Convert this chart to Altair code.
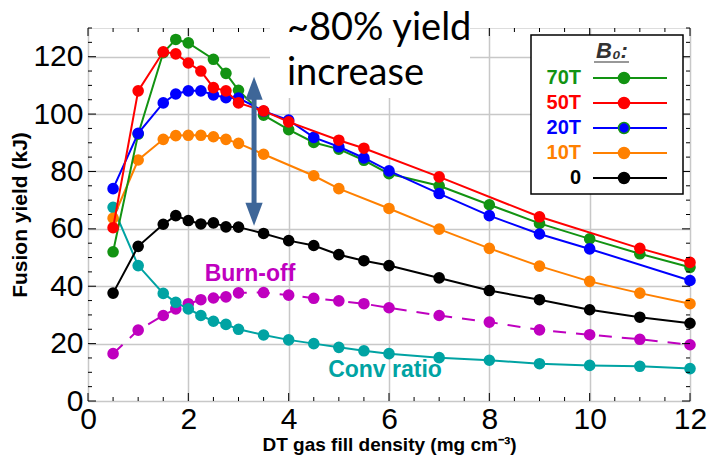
import altair as alt
import pandas as pd

# ---- data: fusion yield vs DT gas fill density for several applied fields ----
x_full = [0.5, 1, 1.5, 1.75, 2, 2.25, 2.5, 2.75, 3, 3.5, 4, 4.5, 5, 5.5, 6, 7, 8, 9, 10, 11, 12]

y_0T = [37.6, 53.9, 61.6, 64.6, 62.9, 61.7, 62.1, 60.7, 60.6, 58.4, 55.9, 54.2, 51.0, 48.9, 47.2,
        42.9, 38.5, 35.3, 31.8, 29.2, 27.1]
y_conv = [67.5, 47.2, 37.5, 34.4, 32.1, 29.8, 27.8, 26.7, 25.0, 23.0, 21.3, 20.0, 18.7, 17.5, 16.5,
          15.1, 14.2, 13.0, 12.4, 12.1, 11.3]
y_burn = [16.5, 24.7, 29.8, 32.1, 33.9, 35.3, 35.9, 36.3, 37.7, 37.8, 36.9, 35.8, 34.9, 33.9, 32.5,
          29.8, 27.5, 24.8, 23.1, 21.5, 19.6]

x_10T = [0.5, 1, 1.5, 1.75, 2, 2.25, 2.5, 2.75, 3, 3.5, 4.5, 5, 6, 7, 8, 9, 10, 11, 12]
y_10T = [63.7, 84.0, 91.2, 92.5, 92.6, 92.6, 92.1, 91.2, 89.8, 86.0, 78.5, 74.0, 67.1, 59.9, 53.2,
         47.0, 41.7, 37.6, 33.9]

x_20T = [0.5, 1, 1.5, 1.75, 2, 2.25, 2.5, 2.75, 3, 3.5, 4, 4.5, 5, 5.5, 6, 7, 8, 9, 10, 12]
y_20T = [74.0, 93.3, 103.9, 107.0, 108.1, 108.1, 106.7, 105.7, 105.6, 101.0, 97.9, 91.9, 88.6, 84.7,
         80.2, 72.3, 64.6, 58.2, 53.0, 42.0]

x_50T = [0.5, 1, 1.5, 1.75, 2, 2.25, 2.5, 2.75, 3, 3.5, 4, 5, 5.5, 7, 9, 11, 12]
y_50T = [60.4, 108.1, 121.7, 121.0, 117.8, 115.0, 109.2, 108.1, 103.9, 101.1, 97.3, 90.9, 88.1,
         78.1, 64.2, 53.2, 48.3]

x_70T = [0.5, 1, 1.5, 1.75, 2, 2.5, 2.75, 3, 3.5, 4, 4.5, 5, 5.5, 6, 7, 8, 9, 10, 11, 12]
y_70T = [52.0, 93.0, 121.4, 126.0, 124.8, 119.1, 114.2, 108.3, 99.6, 94.6, 90.1, 87.8, 83.9, 79.2,
         75.0, 68.4, 61.9, 56.5, 51.3, 46.6]

legend_labels = ["70T", "50T", "20T", "10T", "0"]
x_ticks = [0, 2, 4, 6, 8, 10, 12]
y_ticks = [0, 20, 40, 60, 80, 100, 120]

# ---- styling ----
GREEN, RED, BLUE, ORANGE, BLACK = "#129312", "#ff0000", "#0000ff", "#ff8000", "#000000"
MAGENTA, TEAL, ARROW = "#bf00bf", "#00a3a3", "#3e6698"
legend_colors = [GREEN, RED, BLUE, ORANGE, BLACK]
FONT = "Liberation Sans"
W, H = 602, 373
XD, YD = [0, 12], [0, 130]

xs = alt.Scale(domain=XD, nice=False, zero=False)
ys = alt.Scale(domain=YD, nice=False)

x_axis = alt.Axis(values=x_ticks, title="DT gas fill density (mg cm⁻³)", labelFontSize=30,
                  labelFont=FONT, titleFont=FONT, titleFontSize=19, titleFontWeight="bold",
                  titlePadding=1, labelPadding=3, ticks=False, domain=False, grid=True,
                  gridColor="#c8c8c8", gridWidth=1.5, labelFlush=False, labelColor="black",
                  titleColor="black")
y_axis = alt.Axis(values=y_ticks, title="Fusion yield (kJ)", labelFontSize=30, labelFont=FONT,
                  titleFont=FONT, titleFontSize=21, titleFontWeight="bold", titlePadding=2,
                  labelPadding=5, ticks=False, domain=False, grid=True, gridColor="#c8c8c8",
                  gridWidth=1.5, labelFlush=False, labelColor="black", titleColor="black")

base_df = pd.DataFrame({"x": [0, 12], "y": [0, 130]})
frame = alt.Chart(base_df).mark_point(opacity=0).encode(
    x=alt.X("x:Q", scale=xs, axis=x_axis), y=alt.Y("y:Q", scale=ys, axis=y_axis))


def series(xv, yv, color, dash=None):
    df = pd.DataFrame({"x": xv, "y": yv})
    line_kw = dict(color=color, strokeWidth=2)
    if dash:
        line_kw["strokeDash"] = dash
    line = alt.Chart(df).mark_line(**line_kw).encode(
        x=alt.X("x:Q", scale=xs), y=alt.Y("y:Q", scale=ys))
    pts = alt.Chart(df).mark_point(filled=True, fill=color, color=color, size=135, opacity=1,
                                   strokeWidth=0).encode(
        x=alt.X("x:Q", scale=xs), y=alt.Y("y:Q", scale=ys))
    return [line, pts]


layers = [frame]
layers += series(x_full, y_burn, MAGENTA, dash=[13, 10])
layers += series(x_full, y_conv, TEAL)
layers += series(x_full, y_0T, BLACK)
layers += series(x_10T, y_10T, ORANGE)
layers += series(x_70T, y_70T, GREEN)
layers += series(x_20T, y_20T, BLUE)
layers += series(x_50T, y_50T, RED)

# ---- inward minor/major ticks on all four sides ----
def tick_rules(vals, length, axis):
    df = pd.DataFrame({"v": vals})
    if axis == "left":
        enc = dict(y=alt.Y("v:Q", scale=ys), x=alt.value(0), x2=alt.value(length))
    elif axis == "right":
        enc = dict(y=alt.Y("v:Q", scale=ys), x=alt.value(W), x2=alt.value(W - length))
    elif axis == "bottom":
        enc = dict(x=alt.X("v:Q", scale=xs), y=alt.value(H), y2=alt.value(H - length))
    else:
        enc = dict(x=alt.X("v:Q", scale=xs), y=alt.value(0), y2=alt.value(length))
    return alt.Chart(df).mark_rule(color="black", strokeWidth=1).encode(**enc)


y_minor = [v for v in range(0, 131, 5) if v % 20]
x_minor = [v / 2 for v in range(0, 25) if v % 4]
for side in ("left", "right"):
    layers.append(tick_rules(y_ticks, 8, side))
    layers.append(tick_rules(y_minor, 4, side))
for side in ("bottom", "top"):
    layers.append(tick_rules(x_ticks, 8, side))
    layers.append(tick_rules(x_minor, 4, side))

# ---- curve labels ----
lab_df = pd.DataFrame({"x": [3.23, 5.92], "y": [44.4, 10.7], "t": ["Burn-off", "Conv ratio"],
                       "c": [MAGENTA, TEAL]})
layers.append(alt.Chart(lab_df).mark_text(font=FONT, fontSize=23, fontWeight="bold").encode(
    x=alt.X("x:Q", scale=xs), y=alt.Y("y:Q", scale=ys), text="t:N",
    color=alt.Color("c:N", scale=None)))

# ---- double-headed arrow marking the yield gain ----
arrow_x = 3.31
shaft = pd.DataFrame({"x": [arrow_x], "y1": [108.0], "y2": [67.0]})
layers.append(alt.Chart(shaft).mark_rule(color=ARROW, strokeWidth=5).encode(
    x=alt.X("x:Q", scale=xs), y=alt.Y("y1:Q", scale=ys), y2="y2:Q"))
heads = pd.DataFrame({"x": [arrow_x, arrow_x], "y": [109.0, 65.1],
                      "s": ["M0,-1L-0.75,1L0.75,1Z", "M0,1L-0.75,-1L0.75,-1Z"]})
layers.append(alt.Chart(heads).mark_point(filled=True, fill=ARROW, size=529, opacity=1,
                                          strokeWidth=0).encode(
    x=alt.X("x:Q", scale=xs), y=alt.Y("y:Q", scale=ys), shape=alt.Shape("s:N", scale=None)))

# ---- headline annotation on a white patch ----
patch = pd.DataFrame({"a": [1]})
layers.append(alt.Chart(patch).mark_rect(fill="white").encode(
    x=alt.value(182), x2=alt.value(382), y=alt.value(-28), y2=alt.value(70)))
head_df = pd.DataFrame({"t": ["~80% yield", "increase"], "row": [0, 1]})
head_df["py"] = 12 + 45 * head_df["row"]
layers.append(alt.Chart(head_df).mark_text(font="Lato", fontSize=38, align="left",
                                           baseline="alphabetic", color="black").encode(
    x=alt.value(199), y=alt.Y("py:Q", scale=None), text="t:N"))

# ---- hand-built legend box ----
layers.append(alt.Chart(patch).mark_rect(fill="white", stroke="black", strokeWidth=1.5).encode(
    x=alt.value(443), x2=alt.value(595), y=alt.value(7), y2=alt.value(166)))
leg = pd.DataFrame({"label": legend_labels, "c": legend_colors})
leg["py"] = 50 + 25 * leg.index
leg["lx1"], leg["lx2"], leg["mx"] = 505, 579, 536
leg["edge"] = [GREEN, RED, GREEN, ORANGE, BLACK]
layers.append(alt.Chart(leg).mark_text(font=FONT, fontSize=20, fontWeight="bold", align="right",
                                       baseline="middle").encode(
    x=alt.value(493), y=alt.Y("py:Q", scale=None), text="label:N",
    color=alt.Color("c:N", scale=None)))
layers.append(alt.Chart(leg).mark_rule(strokeWidth=2).encode(
    x=alt.X("lx1:Q", scale=None), x2="lx2:Q", y=alt.Y("py:Q", scale=None),
    color=alt.Color("c:N", scale=None)))
layers.append(alt.Chart(leg).mark_point(filled=True, size=120, opacity=1, strokeWidth=1.5).encode(
    x=alt.X("mx:Q", scale=None), y=alt.Y("py:Q", scale=None),
    fill=alt.Fill("c:N", scale=None), stroke=alt.Stroke("edge:N", scale=None)))
title_df = pd.DataFrame({"t": ["B₀:"]})
layers.append(alt.Chart(title_df).mark_text(font=FONT, fontSize=22, fontWeight="bold",
                                            fontStyle="italic", align="center",
                                            baseline="middle", color="#333333").encode(
    x=alt.value(524), y=alt.value(23), text="t:N"))
layers.append(alt.Chart(patch).mark_rule(color="#333333", strokeWidth=1.2).encode(
    x=alt.value(506), x2=alt.value(541), y=alt.value(34)))

chart = alt.layer(*layers).properties(
    width=W, height=H, autosize="none",
    padding={"left": 88, "top": 28, "right": 18, "bottom": 61},
).configure_view(stroke="black", strokeWidth=1).configure(background="white")

chart.save("out.html", embed_options={"renderer": "svg", "actions": False})
